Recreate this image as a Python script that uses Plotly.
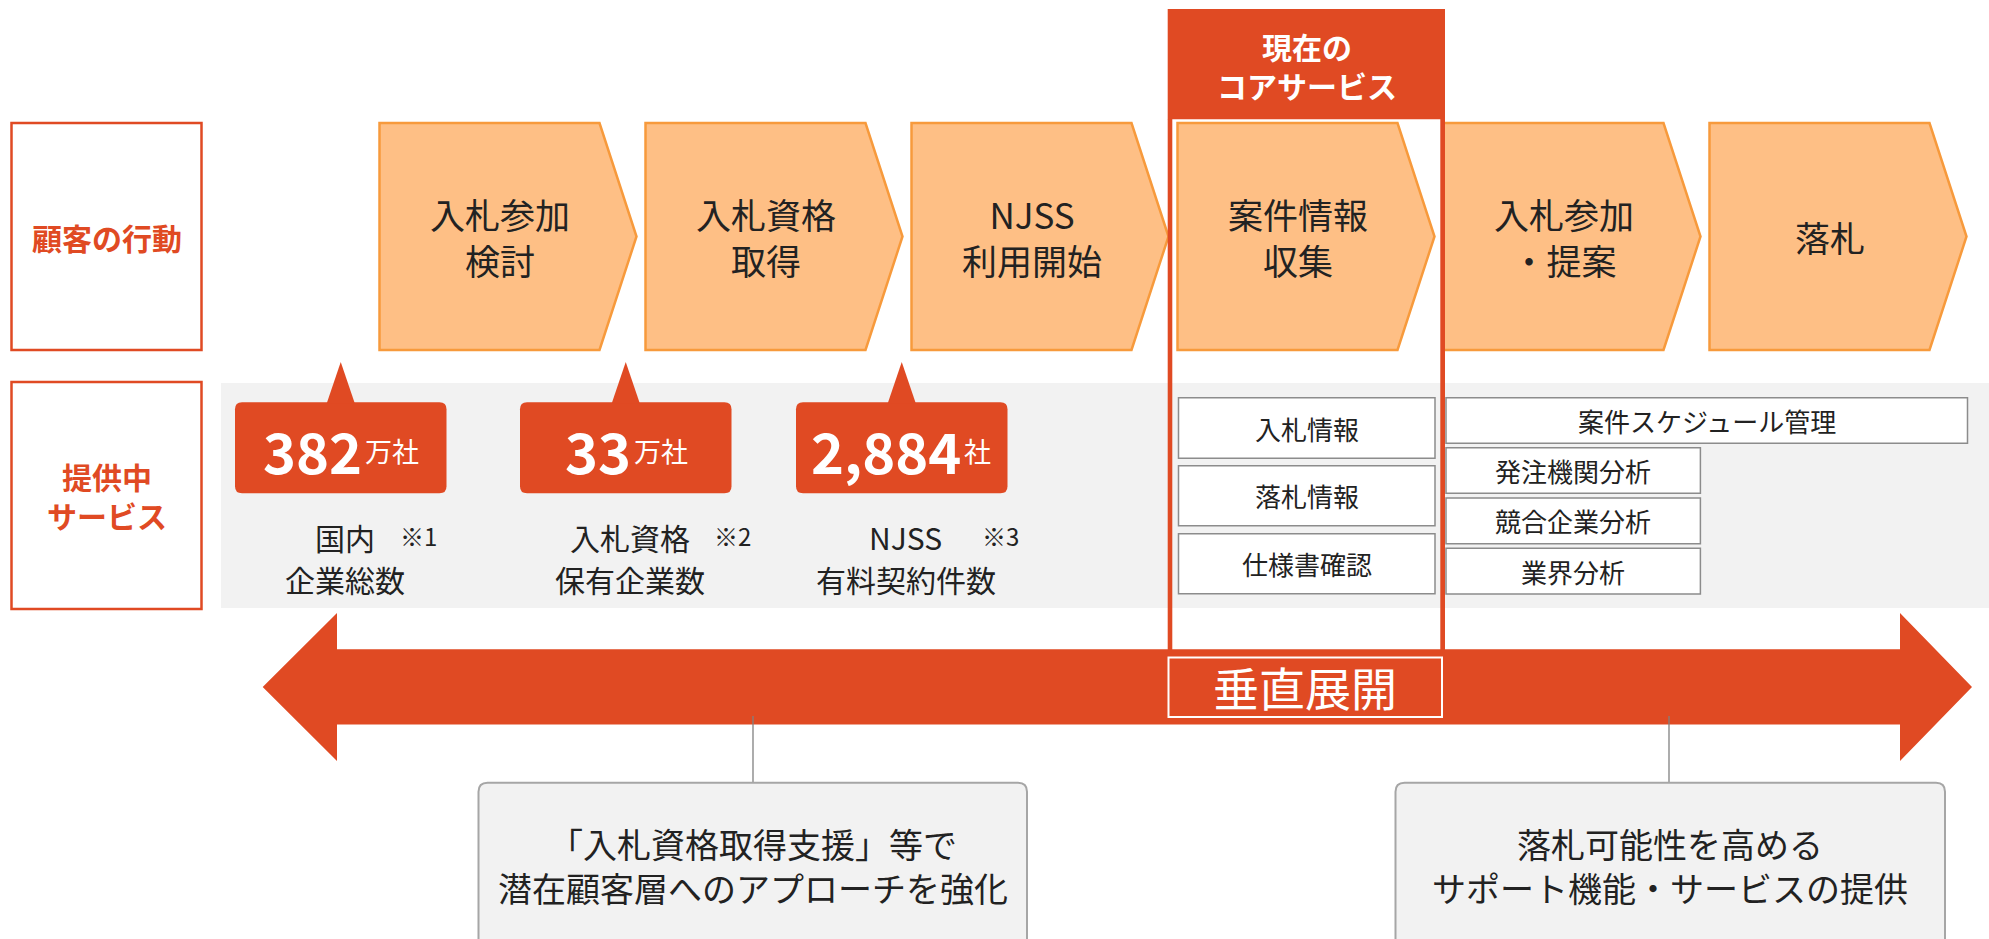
import plotly.graph_objects as go

# ---------------- data ----------------
row_labels = [["顧客の行動"], ["提供中", "サービス"]]
stage_lines = [["入札参加", "検討"], ["入札資格", "取得"], ["NJSS", "利用開始"],
               ["案件情報", "収集"], ["入札参加", "・提案"], ["落札"]]
core_header = ["現在の", "コアサービス"]
callout_numbers = ["382", "33", "2,884"]
callout_units = ["万社", "万社", "社"]
caption_line1 = ["国内", "入札資格", "NJSS"]
caption_notes = ["※1", "※2", "※3"]
caption_line2 = ["企業総数", "保有企業数", "有料契約件数"]
core_services = ["入札情報", "落札情報", "仕様書確認"]
ext_services = ["案件スケジュール管理", "発注機関分析", "競合企業分析", "業界分析"]
arrow_label = "垂直展開"
bottom_left = ["「入札資格取得支援」等で", "潜在顧客層へのアプローチを強化"]
bottom_right = ["落札可能性を高める", "サポート機能・サービスの提供"]

# ---------------- style / layout constants ----------------
W, H = 1989, 939
FONT = "Noto Sans CJK JP"
RED = "#E04A23"
CHEV_FILL = "#FEBF85"
CHEV_LINE = "#F79A3C"
BAND = "#F2F2F2"
BOX_LINE = "#8C8C8C"
TXT = "#222222"

shapes = []
annos = []


def rect(x0, y0, x1, y1, fill, lc=None, lw=0):
    shapes.append(dict(type="rect", xref="x", yref="y", x0=x0, y0=y0, x1=x1, y1=y1,
                       fillcolor=fill, line=dict(color=lc or fill, width=lw), layer="above"))


def path(pts, fill, lc=None, lw=0):
    d = "M " + " L ".join(f"{x},{y}" for x, y in pts) + " Z"
    shapes.append(dict(type="path", xref="x", yref="y", path=d, fillcolor=fill,
                       line=dict(color=lc or fill, width=lw), layer="above"))


def rrect(x0, y0, x1, y1, r, fill, lc=None, lw=0):
    d = (f"M {x0+r},{y0} L {x1-r},{y0} Q {x1},{y0} {x1},{y0+r} L {x1},{y1-r} "
         f"Q {x1},{y1} {x1-r},{y1} L {x0+r},{y1} Q {x0},{y1} {x0},{y1-r} "
         f"L {x0},{y0+r} Q {x0},{y0} {x0+r},{y0} Z")
    shapes.append(dict(type="path", xref="x", yref="y", path=d, fillcolor=fill,
                       line=dict(color=lc or fill, width=lw), layer="above"))


def line(x0, y0, x1, y1, color, w):
    shapes.append(dict(type="line", xref="x", yref="y", x0=x0, y0=y0, x1=x1, y1=y1,
                       line=dict(color=color, width=w), layer="above"))


def text(x, y, s, size, color=TXT, bold=False, xanchor="center"):
    if bold:
        s = f"<b>{s}</b>"
    annos.append(dict(x=x, y=y, xref="x", yref="y", text=s, showarrow=False,
                      xanchor=xanchor, yanchor="middle", align="center",
                      font=dict(family=FONT, size=size, color=color)))


# row label boxes
label_boxes = [(11.5, 123, 201.5, 350), (11.5, 382, 201.5, 609)]
for (x0, y0, x1, y1), lines in zip(label_boxes, row_labels):
    rect(x0, y0, x1, y1, "white", RED, 2.5)
    text((x0 + x1) / 2, (y0 + y1) / 2, "<br>".join(lines), 30, RED, bold=True)

# gray band
rect(221, 383, W + 5, 608, BAND)

# chevrons
CH_X0, CH_STEP, CH_W, CH_TIP, CH_Y0, CH_Y1 = 379.5, 266, 220, 37, 123, 350
for i, lines in enumerate(stage_lines):
    x0 = CH_X0 + i * CH_STEP
    ym = (CH_Y0 + CH_Y1) / 2
    path([(x0, CH_Y0), (x0 + CH_W, CH_Y0), (x0 + CH_W + CH_TIP, ym),
          (x0 + CH_W, CH_Y1), (x0, CH_Y1)], CHEV_FILL, CHEV_LINE, 2.5)
    text(x0 + 120, ym, "<br>".join(lines), 35)

# callouts
callout_x0 = [235, 520, 796]
CW, CY0, CY1 = 211.5, 402.3, 493.3
note_dx = [57, 86, 78]
NUM_SIZE, UNIT_SIZE = 56, 27
DIGIT_W, COMMA_W, UNIT_W = 0.58 * NUM_SIZE, 0.28 * NUM_SIZE, UNIT_SIZE
for i in range(3):
    x0 = callout_x0[i]
    cx = x0 + CW / 2
    rrect(x0, CY0, x0 + CW, CY1, 7, RED)
    path([(cx - 14, CY0 + 1), (cx, 362), (cx + 14, CY0 + 1)], RED)
    num = callout_numbers[i]
    nw = sum(COMMA_W if c == "," else DIGIT_W for c in num)
    uw = UNIT_W * len(callout_units[i])
    split = cx + (nw - uw) / 2
    text(split + 2, 449.5, num, NUM_SIZE, "white", bold=True, xanchor="right")
    text(split + 1, 450, callout_units[i], UNIT_SIZE, "white", xanchor="left")
    text(cx + 4, 537, caption_line1[i], 30)
    text(cx + note_dx[i], 535.5, caption_notes[i], 24, xanchor="left")
    text(cx + 4, 579, caption_line2[i], 30)

# core service boxes
core_rows = [(397.7, 458.3), (465.7, 525.7), (533.7, 593.7)]
for (y0, y1), s in zip(core_rows, core_services):
    rect(1178.5, y0, 1435, y1, "white", BOX_LINE, 1.5)
    text((1178.5 + 1435) / 2, (y0 + y1) / 2, s, 26)

ext_boxes = [(1446, 397.7, 1967.5, 443.3), (1446, 447.7, 1700.4, 493.3),
             (1446, 498, 1700.4, 543.7), (1446, 548.3, 1700.4, 594)]
for (x0, y0, x1, y1), s in zip(ext_boxes, ext_services):
    rect(x0, y0, x1, y1, "white", BOX_LINE, 1.5)
    text((x0 + x1) / 2, (y0 + y1) / 2, s, 26)

# core frame
rect(1167.7, 9, 1445, 119.3, RED)
rect(1167.7, 119, 1172.3, 650, RED)
rect(1440.3, 119, 1445, 650, RED)
text(1306.5, 65, "<br>".join(core_header), 30, "white", bold=True)

# double arrow
path([(262.7, 687), (337, 613), (337, 649.3), (1900, 649.3), (1900, 613), (1972, 687),
      (1900, 761), (1900, 724.5), (337, 724.5), (337, 761)], RED)
rect(1168.5, 657.5, 1442, 717, RED, "white", 2)
text(1305, 686, arrow_label, 46, "white")

# connectors & bottom boxes
line(753, 716, 753, 783, "#808080", 1.3)
line(1669, 716, 1669, 783, "#808080", 1.3)
rrect(478.5, 782.7, 1027, 975, 9, BAND, "#A6A6A6", 2)
rrect(1395.5, 782.7, 1945, 975, 9, BAND, "#A6A6A6", 2)
for cx, lines in ((752.75, bottom_left), (1670.25, bottom_right)):
    text(cx, 865, "<br>".join(lines), 34)

fig = go.Figure()
fig.update_layout(
    width=W, height=H, autosize=False,
    margin=dict(l=0, r=0, t=0, b=0, pad=0),
    paper_bgcolor="white", plot_bgcolor="white",
    xaxis=dict(range=[0, W], visible=False, fixedrange=True),
    yaxis=dict(range=[H, 0], visible=False, fixedrange=True),
    shapes=shapes, annotations=annos, showlegend=False,
)
fig.write_html("out.html", config=dict(displayModeBar=False),
               post_script="document.body.style.margin='0';document.body.style.overflow='hidden';")
